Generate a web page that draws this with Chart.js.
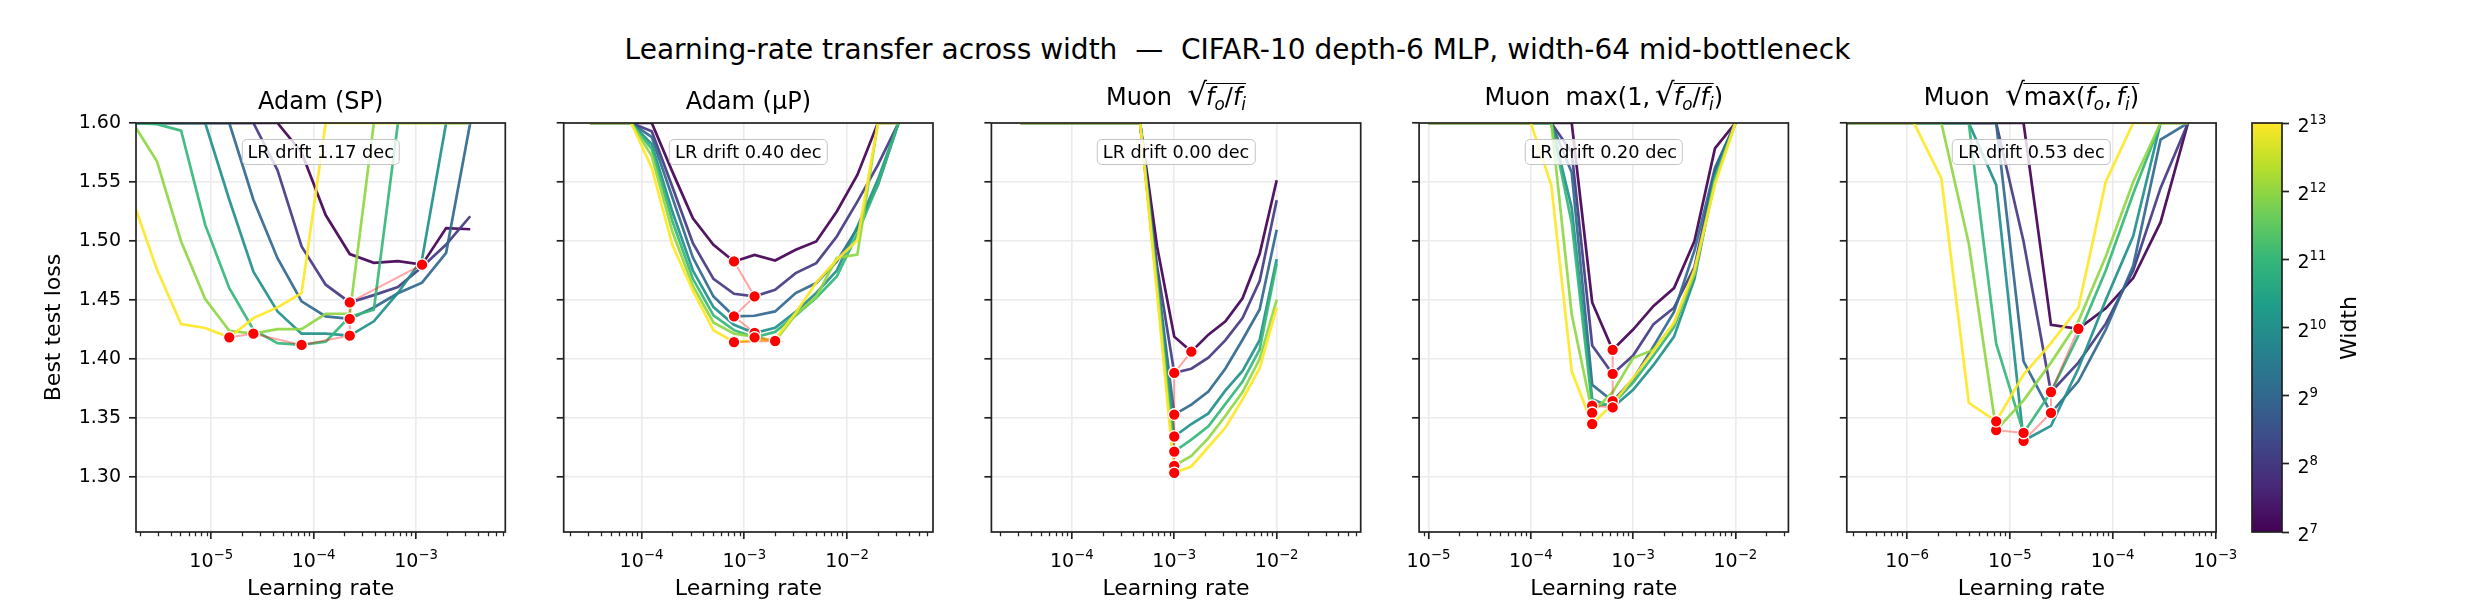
<!DOCTYPE html>
<html>
<head>
<meta charset="utf-8">
<title>Learning-rate transfer across width</title>
<script src="https://cdn.jsdelivr.net/npm/chart.js@4.4.1/dist/chart.umd.min.js"></script>
<style>
  html, body { margin:0; padding:0; background:#ffffff; }
  #fig { position:relative; width:2475px; height:615px; overflow:hidden; background:#fff; font-family:"DejaVu Sans", sans-serif; color:#000; }
  #fig canvas { position:absolute; z-index:1; }
  .sup { position:absolute; left:0; top:35.6px; width:2475px; text-align:center; font-size:28px; line-height:28px; white-space:pre; z-index:5; }
  .ttl { position:absolute; font-size:24px; line-height:24px; white-space:pre; transform:translateX(-50%); z-index:5; }
  .ttl i { font-style:italic; }
  .ttl sub { font-size:0.7em; vertical-align:-0.28em; line-height:0; }
  .ov { display:inline-block; border-top:1.6px solid #000; padding-top:1px; line-height:24px; margin-left:-1px; }
  .rad { font-size:1.3em; line-height:0; }
  .box { position:absolute; top:139px; height:24px; line-height:24px; padding:0 5px; font-size:17.7px; border:1.5px solid #c4c4c4; border-radius:5px; background:rgba(255,255,255,0.8); transform:translateX(-50%); white-space:pre; z-index:5; }
  .cblabel { position:absolute; font-size:22px; line-height:22px; white-space:pre; transform:translate(-50%,-50%) rotate(-90deg); z-index:5; }
</style>
</head>
<body>
<div id="fig"></div>
<script>
// ---------------- data ----------------
const widths = [128, 256, 512, 1024, 2048, 4096, 8192];
const widthLog2 = [7, 8, 9, 10, 11, 12, 13];
const widthColors = ['#440154', '#443a83', '#31688e', '#21908c', '#35b779', '#8fd744', '#fde725'];

const suptitleText = 'Learning-rate transfer across width  \u2014  CIFAR-10 depth-6 MLP, width-64 mid-bottleneck';
const panelTitles = [
  'Adam (SP)',
  'Adam (\u03bcP)',
  'Muon  <span class="rad">\u221a</span><span class="ov"><i>f</i><sub><i>o</i></sub>/<i>f</i><sub><i>i</i></sub></span>',
  'Muon  max(1,\u2009<span class="rad">\u221a</span><span class="ov"><i>f</i><sub><i>o</i></sub>/<i>f</i><sub><i>i</i></sub></span>)',
  'Muon  <span class="rad">\u221a</span><span class="ov">max(<i>f</i><sub><i>o</i></sub>,\u2009<i>f</i><sub><i>i</i></sub>)</span>'
];
const driftLabels = ['LR drift 1.17 dec', 'LR drift 0.40 dec', 'LR drift 0.00 dec', 'LR drift 0.20 dec', 'LR drift 0.53 dec'];

const yTicks = [1.30, 1.35, 1.40, 1.45, 1.50, 1.55, 1.60];
const yRange = [1.2535, 1.60];
const cbTicks = [7, 8, 9, 10, 11, 12, 13];

// Adam (SP)
const lrAdamSP = [1.719e-6, 2.955e-6, 5.078e-6, 8.729e-6, 1.501e-5, 2.581e-5, 4.437e-5, 7.626e-5,
                  1.311e-4, 2.254e-4, 3.874e-4, 6.659e-4, 1.145e-3, 1.968e-3, 3.383e-3];
const lossAdamSP = [
  [1.60, 1.60, 1.60, 1.60, 1.60, 1.60, 1.60, 1.575, 1.522, 1.489, 1.4815, 1.483, 1.4800, 1.511, 1.510],
  [1.60, 1.60, 1.60, 1.60, 1.60, 1.60, 1.560, 1.4955, 1.463, 1.448, 1.4542, 1.461, 1.478, 1.497, 1.521],
  [1.60, 1.60, 1.60, 1.60, 1.60, 1.535, 1.4855, 1.4489, 1.4362, 1.434, 1.4437, 1.4557, 1.4647, 1.490, 1.60],
  [1.60, 1.60, 1.60, 1.60, 1.535, 1.474, 1.4404, 1.4215, 1.4215, 1.4198, 1.432, 1.456, 1.4845, 1.60, 1.60],
  [1.60, 1.599, 1.5935, 1.5137, 1.4601, 1.4249, 1.4135, 1.4120, 1.4148, 1.436, 1.4418, 1.60, 1.60, 1.60, 1.60],
  [1.60, 1.5673, 1.4996, 1.4508, 1.424, 1.4215, 1.4254, 1.4254, 1.4384, 1.4384, 1.60, 1.60, 1.60, 1.60, 1.60],
  [1.534, 1.4756, 1.4297, 1.4263, 1.4184, 1.4347, 1.4438, 1.4559, 1.60, 1.60, 1.60, 1.60, 1.60, 1.60, 1.60]
];
const xTicksAdamSP = [1e-5, 1e-4, 1e-3];
const xRangeAdamSP = [1.841e-6, 7.447e-3];

// Adam (muP)
const lrAdamMuP = [3.162e-5, 5.012e-5, 7.943e-5, 1.259e-4, 1.995e-4, 3.162e-4, 5.012e-4, 7.943e-4,
                   1.259e-3, 1.995e-3, 3.162e-3, 5.012e-3, 7.943e-3, 1.259e-2, 1.995e-2, 3.162e-2];
const lossAdamMuP = [
  [1.60, 1.60, 1.60, 1.60, 1.5588, 1.5193, 1.4968, 1.4827, 1.4883, 1.4835, 1.4926, 1.4996, 1.525, 1.556, 1.60, 1.60],
  [1.60, 1.60, 1.60, 1.593, 1.546, 1.4982, 1.4680, 1.4553, 1.4531, 1.4587, 1.4728, 1.4813, 1.5038, 1.5334, 1.5645, 1.60],
  [1.60, 1.60, 1.60, 1.588, 1.537, 1.486, 1.453, 1.4362, 1.4367, 1.4404, 1.4559, 1.4644, 1.4827, 1.5109, 1.5475, 1.60],
  [1.60, 1.60, 1.60, 1.582, 1.525, 1.475, 1.444, 1.429, 1.4221, 1.4265, 1.440, 1.456, 1.475, 1.512, 1.552, 1.60],
  [1.60, 1.60, 1.60, 1.578, 1.517, 1.468, 1.437, 1.4245, 1.4184, 1.423, 1.437, 1.452, 1.470, 1.506, 1.548, 1.60],
  [1.60, 1.60, 1.60, 1.572, 1.508, 1.462, 1.431, 1.4215, 1.4190, 1.4153, 1.4377, 1.4527, 1.4856, 1.4886, 1.60, 1.60],
  [1.60, 1.60, 1.60, 1.562, 1.4968, 1.458, 1.4245, 1.4144, 1.4158, 1.4168, 1.4392, 1.4647, 1.4841, 1.5006, 1.60, 1.60]
];
const xTicksAdamMuP = [1e-4, 1e-3, 1e-2];
const xRangeAdamMuP = [1.750e-5, 6.855e-2];

// Muon sqrt(fo/fi)
const lrMuonA = [3.162e-5, 4.642e-5, 6.813e-5, 1.000e-4, 1.468e-4, 2.154e-4, 3.162e-4, 4.642e-4,
                 6.813e-4, 1.000e-3, 1.468e-3, 2.154e-3, 3.162e-3, 4.642e-3, 6.813e-3, 1.000e-2];
const lossMuonA = [
  [1.60, 1.60, 1.60, 1.60, 1.60, 1.60, 1.60, 1.60, 1.495, 1.419, 1.4063, 1.4207, 1.432, 1.4515, 1.489, 1.5515],
  [1.60, 1.60, 1.60, 1.60, 1.60, 1.60, 1.60, 1.60, 1.478, 1.3883, 1.3918, 1.4012, 1.416, 1.4347, 1.466, 1.5345],
  [1.60, 1.60, 1.60, 1.60, 1.60, 1.60, 1.60, 1.60, 1.470, 1.353, 1.3614, 1.3725, 1.392, 1.4164, 1.442, 1.5096],
  [1.60, 1.60, 1.60, 1.60, 1.60, 1.60, 1.60, 1.60, 1.466, 1.3344, 1.345, 1.354, 1.3734, 1.390, 1.416, 1.4847],
  [1.60, 1.60, 1.60, 1.60, 1.60, 1.60, 1.60, 1.60, 1.463, 1.3216, 1.3318, 1.343, 1.362, 1.381, 1.408, 1.4811],
  [1.60, 1.60, 1.60, 1.60, 1.60, 1.60, 1.60, 1.60, 1.460, 1.3096, 1.318, 1.333, 1.352, 1.372, 1.400, 1.4503],
  [1.60, 1.60, 1.60, 1.60, 1.60, 1.60, 1.60, 1.60, 1.455, 1.3036, 1.309, 1.3255, 1.342, 1.366, 1.392, 1.4437]
];
const xTicksMuonA = [1e-4, 1e-3, 1e-2];
const xRangeMuonA = [1.641e-5, 6.607e-2];

// Muon max(1, sqrt(fo/fi))
const lrMuonB = [1.000e-5, 1.585e-5, 2.512e-5, 3.981e-5, 6.310e-5, 1.000e-4, 1.585e-4, 2.512e-4,
                 3.981e-4, 6.310e-4, 1.000e-3, 1.585e-3, 2.512e-3, 3.981e-3, 6.310e-3, 1.000e-2];
const lossMuonB = [
  [1.60, 1.60, 1.60, 1.60, 1.60, 1.60, 1.60, 1.60, 1.448, 1.4078, 1.4250, 1.4450, 1.4601, 1.5000, 1.5785, 1.60],
  [1.60, 1.60, 1.60, 1.60, 1.60, 1.60, 1.60, 1.575, 1.4115, 1.3874, 1.403, 1.4296, 1.4435, 1.478, 1.560, 1.60],
  [1.60, 1.60, 1.60, 1.60, 1.60, 1.60, 1.60, 1.558, 1.3783, 1.3644, 1.383, 1.411, 1.440, 1.492, 1.562, 1.60],
  [1.60, 1.60, 1.60, 1.60, 1.60, 1.60, 1.60, 1.528, 1.366, 1.359, 1.374, 1.395, 1.419, 1.468, 1.555, 1.60],
  [1.60, 1.60, 1.60, 1.60, 1.60, 1.60, 1.60, 1.515, 1.3605, 1.362, 1.380, 1.403, 1.427, 1.473, 1.553, 1.60],
  [1.60, 1.60, 1.60, 1.60, 1.60, 1.60, 1.60, 1.4377, 1.3545, 1.372, 1.4009, 1.408, 1.430, 1.472, 1.550, 1.60],
  [1.60, 1.60, 1.60, 1.60, 1.60, 1.60, 1.5475, 1.3896, 1.345, 1.362, 1.384, 1.407, 1.431, 1.476, 1.548, 1.60]
];
const xTicksMuonB = [1e-5, 1e-4, 1e-3, 1e-2];
const xRangeMuonB = [8.091e-6, 3.296e-2];

// Muon sqrt(max(fo, fi))
const lrMuonC = [1.848e-7, 3.415e-7, 6.310e-7, 1.166e-6, 2.154e-6, 3.981e-6, 7.356e-6,
                 1.359e-5, 2.512e-5, 4.642e-5, 8.577e-5, 1.585e-4, 2.929e-4, 5.412e-4];
const lossMuonC = [
  [1.60, 1.60, 1.60, 1.60, 1.60, 1.60, 1.60, 1.60, 1.4290, 1.4257, 1.443, 1.4686, 1.516, 1.60],
  [1.60, 1.60, 1.60, 1.60, 1.60, 1.60, 1.60, 1.4996, 1.3721, 1.397, 1.430, 1.475, 1.545, 1.60],
  [1.60, 1.60, 1.60, 1.60, 1.60, 1.60, 1.60, 1.398, 1.3545, 1.3812, 1.425, 1.479, 1.586, 1.60],
  [1.60, 1.60, 1.60, 1.60, 1.60, 1.60, 1.5475, 1.3308, 1.3434, 1.392, 1.450, 1.5042, 1.60, 1.60],
  [1.60, 1.60, 1.60, 1.60, 1.60, 1.60, 1.4130, 1.3374, 1.372, 1.420, 1.475, 1.540, 1.60, 1.60],
  [1.60, 1.60, 1.60, 1.60, 1.60, 1.4979, 1.3398, 1.365, 1.397, 1.432, 1.4869, 1.550, 1.60, 1.60],
  [1.60, 1.60, 1.60, 1.60, 1.553, 1.363, 1.3473, 1.3868, 1.4136, 1.4435, 1.5502, 1.60, 1.60, 1.60]
];
const xTicksMuonC = [1e-6, 1e-5, 1e-4, 1e-3];
const xRangeMuonC = [2.588e-7, 1.016e-3];

// colormap stops for the colorbar (viridis)
const viridisStops = [[0, '#440154'], [0.111, '#482878'], [0.222, '#3e4989'], [0.333, '#31688e'],
  [0.444, '#26828e'], [0.556, '#1f9e89'], [0.667, '#35b779'], [0.778, '#6ece58'], [0.889, '#b5de2b'], [1, '#fde725']];

// ---------------- layout / style ----------------
const FONT = '"DejaVu Sans", sans-serif';
const FIG_H = 615;
const PLOT_TOP = 123, PLOT_BOTTOM = 532, PLOT_W = 369.3, CANVAS_TOP = 99;
const plotLefts = [136, 563.7, 991.4, 1419.1, 1846.8];
const titleTops = [88.5, 88.5, 82.8, 82.8, 82.8];
const SPINE = '#222222';
const GRID = '#ebebeb';
const TICK_FONT = 19, SUP_FONT = 13.3, SUP_RAISE = 8;

Chart.defaults.font.family = FONT;
Chart.defaults.color = '#000';

function hexA(hex, a) {
  const n = parseInt(hex.slice(1), 16);
  return `rgba(${(n >> 16) & 255},${(n >> 8) & 255},${n & 255},${a})`;
}

// draws "base^exp" tick labels (mathtext style) at the library's tick positions
function drawPowLabel(ctx, base, exp, x, baseline, align) {
  ctx.font = `${TICK_FONT}px ${FONT}`;
  const wb = ctx.measureText(base).width;
  ctx.font = `${SUP_FONT}px ${FONT}`;
  const we = ctx.measureText(exp).width;
  const x0 = align === 'center' ? x - (wb + we) / 2 : x;
  ctx.font = `${TICK_FONT}px ${FONT}`;
  ctx.fillText(base, x0, baseline);
  ctx.font = `${SUP_FONT}px ${FONT}`;
  ctx.fillText(exp, x0 + wb, baseline - SUP_RAISE);
}

const framePlugin = {
  id: 'frame',
  afterDraw(chart, args, opts) {
    const {ctx, chartArea: a, scales} = chart;
    ctx.save();
    if (opts.minor && scales.x) {
      const xs = scales.x;
      ctx.strokeStyle = SPINE;
      ctx.lineWidth = 1.25;
      ctx.beginPath();
      const d0 = Math.floor(Math.log10(xs.min)), d1 = Math.ceil(Math.log10(xs.max));
      for (let d = d0; d <= d1; d++) {
        for (let m = 2; m <= 9; m++) {
          const v = m * Math.pow(10, d);
          if (v < xs.min || v > xs.max) continue;
          const px = Math.round(xs.getPixelForValue(v)) + 0.5;
          ctx.moveTo(px, a.bottom);
          ctx.lineTo(px, a.bottom + 4.2);
        }
      }
      ctx.stroke();
    }
    ctx.strokeStyle = SPINE;
    ctx.lineWidth = 1.7;
    ctx.strokeRect(a.left, a.top, a.right - a.left, a.bottom - a.top);

    // power-of-ten / power-of-two tick labels
    ctx.fillStyle = '#000';
    ctx.textBaseline = 'alphabetic';
    ctx.textAlign = 'left';
    if (opts.xPow && scales.x) {
      const xs = scales.x;
      xs.ticks.forEach(t => {
        const e = Math.round(Math.log10(t.value));
        drawPowLabel(ctx, '10', (e < 0 ? '\u2212' : '') + Math.abs(e), xs.getPixelForValue(t.value),
                     a.bottom + 35, 'center');
      });
    }
    if (opts.yPow && scales.y) {
      const ys = scales.y;
      ys.ticks.forEach(t => {
        drawPowLabel(ctx, '2', String(t.value), a.right + 15.5, ys.getPixelForValue(t.value) + 9, 'left');
      });
    }
    ctx.restore();
  }
};

const panels = [
  {lr: lrAdamSP, loss: lossAdamSP, xTicks: xTicksAdamSP, xRange: xRangeAdamSP},
  {lr: lrAdamMuP, loss: lossAdamMuP, xTicks: xTicksAdamMuP, xRange: xRangeAdamMuP},
  {lr: lrMuonA, loss: lossMuonA, xTicks: xTicksMuonA, xRange: xRangeMuonA},
  {lr: lrMuonB, loss: lossMuonB, xTicks: xTicksMuonB, xRange: xRangeMuonB},
  {lr: lrMuonC, loss: lossMuonC, xTicks: xTicksMuonC, xRange: xRangeMuonC}
];

const fig = document.getElementById('fig');

// suptitle
const st = document.createElement('div');
st.className = 'sup';
st.textContent = suptitleText;
fig.appendChild(st);

panels.forEach((p, i) => {
  const plotLeft = plotLefts[i];
  const L = i === 0 ? 136 : 40, R = 40;
  const cl = Math.floor(plotLeft - L);
  const yW = plotLeft - cl;
  const W = Math.ceil(yW + PLOT_W + R);
  const H = FIG_H - CANVAS_TOP;
  const xH = FIG_H - PLOT_BOTTOM;

  const cv = document.createElement('canvas');
  cv.width = W; cv.height = H;
  cv.style.left = cl + 'px'; cv.style.top = CANVAS_TOP + 'px';
  cv.style.width = W + 'px'; cv.style.height = H + 'px';
  fig.appendChild(cv);

  const center = plotLeft + PLOT_W / 2;
  const t = document.createElement('div');
  t.className = 'ttl';
  t.style.left = center + 'px';
  t.style.top = titleTops[i] + 'px';
  t.innerHTML = panelTitles[i];
  fig.appendChild(t);

  const b = document.createElement('div');
  b.className = 'box';
  b.style.left = center + 'px';
  b.textContent = driftLabels[i];
  fig.appendChild(b);

  // best LR per width (argmin of each curve)
  const best = p.loss.map(arr => {
    let k = 0;
    arr.forEach((v, j) => { if (v < arr[k]) k = j; });
    return k;
  });
  const bestPts = best.map((k, j) => ({x: p.lr[k], y: p.loss[j][k]}));

  const datasets = [];
  datasets.push({
    data: bestPts, showLine: false, pointRadius: 5.8, pointHoverRadius: 5.8,
    pointBackgroundColor: '#ff0000', pointBorderColor: '#ffffff', pointBorderWidth: 1.3, order: 0
  });
  datasets.push({
    data: bestPts, borderColor: 'rgba(255,0,0,0.35)', borderWidth: 2, pointRadius: 0, order: 1, clip: 0
  });
  p.loss.forEach((arr, j) => {
    datasets.push({
      data: p.lr.map((x, k) => ({x: x, y: arr[k]})),
      borderColor: hexA(widthColors[j], 0.92), borderWidth: 2.7, pointRadius: 0, tension: 0,
      order: 10 + (6 - j), clip: 0
    });
  });

  new Chart(cv, {
    type: 'line',
    data: {datasets},
    options: {
      responsive: false, animation: false, devicePixelRatio: 1,
      events: [],
      layout: {padding: {left: 0, right: W - yW - PLOT_W, top: PLOT_TOP - CANVAS_TOP, bottom: 0}},
      plugins: {legend: {display: false}, tooltip: {enabled: false}, frame: {minor: true, xPow: true}},
      scales: {
        x: {
          type: 'logarithmic', bounds: 'data', min: p.xRange[0], max: p.xRange[1],
          afterBuildTicks: s => { s.ticks = p.xTicks.map(v => ({value: v})); },
          afterFit: s => { s.height = xH; },
          ticks: {callback: () => '', font: {size: 19}, color: '#000', padding: 10,
                  autoSkip: false, maxRotation: 0, minRotation: 0},
          grid: {color: GRID, lineWidth: 1.6, drawTicks: true, tickLength: 7, tickWidth: 1.7, tickColor: SPINE},
          border: {display: false},
          title: {display: true, text: 'Learning rate', font: {size: 22}, color: '#000', padding: {top: 0, bottom: 13}}
        },
        y: {
          type: 'linear', bounds: 'data', min: yRange[0], max: yRange[1],
          afterBuildTicks: s => { s.ticks = yTicks.map(v => ({value: v})); },
          afterFit: s => { s.width = yW; },
          ticks: {callback: v => (i === 0 ? v.toFixed(2) : ''), font: {size: 19}, color: '#000', padding: 8, autoSkip: false},
          grid: {color: GRID, lineWidth: 1.6, drawTicks: true, tickLength: 7, tickWidth: 1.7, tickColor: SPINE},
          border: {display: false},
          title: {display: i === 0, text: 'Best test loss', font: {size: 22}, color: '#000', padding: {top: 41, bottom: 0}}
        }
      }
    },
    plugins: [framePlugin]
  });
});

// ---------------- colorbar ----------------
(function () {
  const cl = 2248, W = 114, top = CANVAS_TOP, H = (PLOT_BOTTOM - CANVAS_TOP) + 24;
  const cv = document.createElement('canvas');
  cv.width = W; cv.height = H;
  cv.style.left = cl + 'px'; cv.style.top = top + 'px';
  cv.style.width = W + 'px'; cv.style.height = H + 'px';
  fig.appendChild(cv);

  const cbPlugin = {
    id: 'cbfill',
    beforeDatasetsDraw(chart) {
      const {ctx, chartArea: a} = chart;
      const g = ctx.createLinearGradient(0, a.bottom, 0, a.top);
      viridisStops.forEach(([s, c]) => g.addColorStop(s, c));
      ctx.save();
      ctx.fillStyle = g;
      ctx.fillRect(a.left, a.top, a.right - a.left, a.bottom - a.top);
      ctx.restore();
    }
  };

  new Chart(cv, {
    type: 'line',
    data: {datasets: []},
    options: {
      responsive: false, animation: false, devicePixelRatio: 1, events: [],
      layout: {padding: {left: 4, right: 0, top: PLOT_TOP - CANVAS_TOP, bottom: 24}},
      plugins: {legend: {display: false}, tooltip: {enabled: false}, frame: {minor: false, yPow: true}},
      scales: {
        x: {type: 'linear', display: false, min: 0, max: 1},
        y: {
          type: 'linear', position: 'right', bounds: 'data', min: widthLog2[0], max: widthLog2[widthLog2.length - 1],
          afterBuildTicks: s => { s.ticks = cbTicks.map(v => ({value: v})); },
          afterFit: s => { s.width = 80; },
          ticks: {callback: () => '', font: {size: 19}, color: '#000', padding: 8, autoSkip: false},
          grid: {drawOnChartArea: false, drawTicks: true, tickLength: 7, tickWidth: 1.7, tickColor: SPINE},
          border: {display: false}
        }
      }
    },
    plugins: [cbPlugin, framePlugin]
  });

  const lab = document.createElement('div');
  lab.className = 'cblabel';
  lab.style.left = '2349.4px';
  lab.style.top = ((PLOT_TOP + PLOT_BOTTOM) / 2) + 'px';
  lab.textContent = 'Width';
  fig.appendChild(lab);
})();
</script>
</body>
</html>
